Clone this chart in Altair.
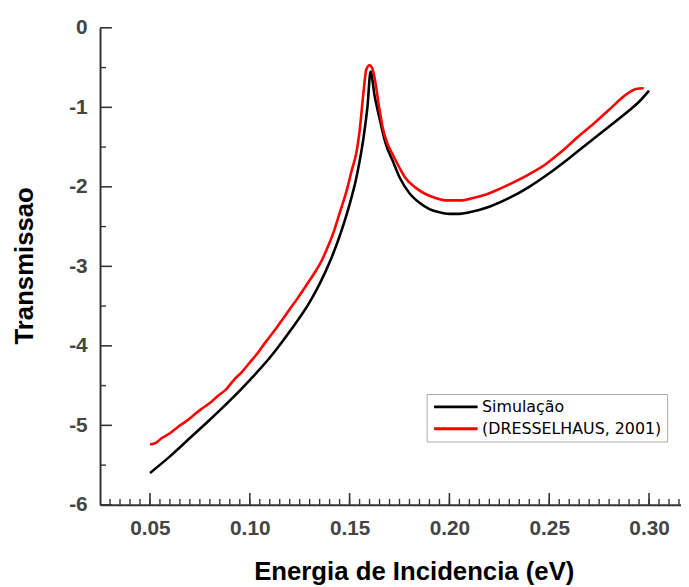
import altair as alt
import pandas as pd

# Simulação (black)
sim_x = [0.050, 0.060, 0.070, 0.080, 0.090, 0.100, 0.110, 0.120, 0.130, 0.135,
         0.140, 0.145, 0.150, 0.153, 0.155, 0.157, 0.159, 0.1605, 0.1625, 0.165,
         0.168, 0.1717, 0.175, 0.180, 0.185, 0.190, 0.195, 0.200, 0.205, 0.210,
         0.220, 0.230, 0.240, 0.250, 0.260, 0.270, 0.280, 0.290, 0.295, 0.300]
sim_y = [-5.60, -5.39, -5.16, -4.93, -4.69, -4.43, -4.15, -3.82, -3.45, -3.22,
         -2.95, -2.62, -2.22, -1.93, -1.68, -1.38, -0.98, -0.55, -0.85, -1.14,
         -1.45, -1.68, -1.88, -2.08, -2.20, -2.28, -2.32, -2.34, -2.34, -2.32,
         -2.25, -2.14, -2.00, -1.83, -1.64, -1.44, -1.24, -1.04, -0.93, -0.79]

# (DRESSELHAUS, 2001) (red)
exp_x = [0.050, 0.053, 0.056, 0.060, 0.064, 0.068, 0.072, 0.076, 0.080, 0.084,
         0.088, 0.092, 0.096, 0.100, 0.104, 0.108, 0.112, 0.116, 0.120, 0.124,
         0.128, 0.132, 0.136, 0.139, 0.142, 0.145, 0.1485, 0.151, 0.1535, 0.155,
         0.1568, 0.1584, 0.160, 0.1615, 0.1626, 0.1645, 0.1667, 0.169, 0.1717, 0.175,
         0.178, 0.183, 0.188, 0.193, 0.198, 0.2064, 0.212, 0.218, 0.223, 0.230,
         0.2394, 0.248, 0.256, 0.264, 0.2725, 0.280, 0.289, 0.2935, 0.2973]
exp_y = [-5.24, -5.22, -5.16, -5.10, -5.02, -4.95, -4.87, -4.79, -4.72, -4.63,
         -4.55, -4.43, -4.33, -4.21, -4.09, -3.95, -3.82, -3.68, -3.54, -3.40,
         -3.25, -3.10, -2.93, -2.76, -2.57, -2.33, -2.05, -1.80, -1.56, -1.30,
         -0.85, -0.52, -0.47, -0.52, -0.64, -0.95, -1.27, -1.46, -1.60, -1.76,
         -1.89, -2.01, -2.09, -2.14, -2.17, -2.17, -2.14, -2.10, -2.05, -1.97,
         -1.85, -1.72, -1.56, -1.38, -1.20, -1.03, -0.83, -0.77, -0.76]

series_names = ["Simulação", "(DRESSELHAUS, 2001)"]
series_colors = ["#000000", "#ff0000"]

x_major = [0.05, 0.10, 0.15, 0.20, 0.25, 0.30]
x_minor = [round(0.025 + 0.005 * i, 3) for i in range(1, 59)]
y_major = [-6, -5, -4, -3, -2, -1, 0]
y_minor = [-5.5, -4.5, -3.5, -2.5, -1.5, -0.5]

X_DOMAIN = [0.025, 0.316]
Y_DOMAIN = [-6, 0]
W, H = 587, 482

df = pd.concat([
    pd.DataFrame({"x": sim_x, "y": sim_y, "s": series_names[0], "o": range(len(sim_x))}),
    pd.DataFrame({"x": exp_x, "y": exp_y, "s": series_names[1], "o": range(len(exp_x))}),
])

xs = alt.Scale(domain=X_DOMAIN, nice=False, zero=False)
ys = alt.Scale(domain=Y_DOMAIN, nice=False, zero=False)

x_axis = alt.Axis(
    title="Energia de Incidencia (eV)", values=x_major, format=".2f",
    ticks=False, tickSize=0, labelPadding=13, grid=False, labelFlush=False,
    labelOverlap=False, titleX=317, titleY=75, titleAlign="center",
    titleBaseline="alphabetic", titleFontSize=26)
y_axis = alt.Axis(
    title="Transmissao", values=y_major, labelExpr="'' + datum.value",
    ticks=False, tickSize=0, labelPadding=13, grid=False, labelFlush=False,
    labelOverlap=False, titleX=-76, titleY=240, titleAlign="center",
    titleBaseline="middle", titleAngle=270, titleFontSize=26)

lines = alt.Chart(df).mark_line(strokeWidth=2.6, interpolate="monotone").encode(
    x=alt.X("x:Q", scale=xs, axis=x_axis),
    y=alt.Y("y:Q", scale=ys, axis=y_axis),
    color=alt.Color("s:N", scale=alt.Scale(domain=series_names, range=series_colors),
                    legend=alt.Legend(title=None, orient="none", legendX=330, legendY=370,
                                      symbolType="M-1,0H7", symbolSize=121,
                                      symbolStrokeWidth=3, labelFont="DejaVu Sans",
                                      labelFontSize=16, labelColor="#000000",
                                      labelOffset=35, labelLimit=400, rowPadding=6,
                                      padding=5, strokeColor="#aaaaaa",
                                      fillColor="#ffffff", cornerRadius=0)),
    order="o:Q",
)

xt_major = alt.Chart(pd.DataFrame({"x": x_major})).mark_rule(color="#333333", strokeWidth=1.6).encode(
    x=alt.X("x:Q", scale=xs, axis=x_axis), y=alt.value(H), y2=alt.value(H - 12))
xt_minor = alt.Chart(pd.DataFrame({"x": x_minor})).mark_rule(color="#333333", strokeWidth=1.4).encode(
    x=alt.X("x:Q", scale=xs, axis=x_axis), y=alt.value(H), y2=alt.value(H - 6))
yt_major = alt.Chart(pd.DataFrame({"y": y_major})).mark_rule(color="#333333", strokeWidth=1.6).encode(
    y=alt.Y("y:Q", scale=ys, axis=y_axis), x=alt.value(0), x2=alt.value(12))
yt_minor = alt.Chart(pd.DataFrame({"y": y_minor})).mark_rule(color="#333333", strokeWidth=1.4).encode(
    y=alt.Y("y:Q", scale=ys, axis=y_axis), x=alt.value(0), x2=alt.value(6))

chart = alt.layer(lines, xt_minor, xt_major, yt_minor, yt_major).properties(
    width=W, height=H,
    autosize=alt.AutoSizeParams(type="none"),
    padding={"left": 93, "top": 17, "right": 0, "bottom": 82},
).configure_view(stroke=None).configure_axis(
    domainColor="#333333", domainWidth=2,
    labelFont="Liberation Sans", labelFontWeight="bold", labelFontSize=21, labelColor="#444444",
    titleFont="Liberation Sans", titleFontWeight="bold", titleColor="#000000",
)

chart.save("out.html", embed_options={"renderer": "svg", "actions": False})
